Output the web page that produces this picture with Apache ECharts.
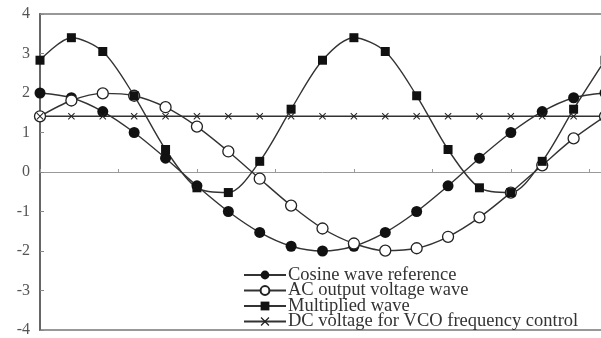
<!DOCTYPE html>
<html>
<head>
<meta charset="utf-8">
<script src="https://cdn.jsdelivr.net/npm/echarts@6/dist/echarts.min.js"></script>
<style>html,body{margin:0;padding:0;background:#fff;overflow:hidden}#c{width:605px;height:338px}</style>
</head>
<body>
<div id="c"></div>
<script>
var sampleIndex = [0,1,2,3,4,5,6,7,8,9,10,11,12,13,14,15,16,17,18];
var cosineRef = [2.0,1.88,1.53,1.0,0.35,-0.35,-1.0,-1.53,-1.88,-2.0,-1.88,-1.53,-1.0,-0.35,0.35,1.0,1.53,1.88,2.0];
var acOutput = [1.41,1.81,1.99,1.93,1.64,1.15,0.52,-0.17,-0.85,-1.43,-1.81,-1.99,-1.93,-1.64,-1.15,-0.52,0.17,0.85,1.41];
var multiplied = [2.83,3.40,3.05,1.93,0.57,-0.40,-0.52,0.27,1.59,2.83,3.40,3.05,1.93,0.57,-0.40,-0.52,0.27,1.59,2.83];
var dcVoltage = [1.41,1.41,1.41,1.41,1.41,1.41,1.41,1.41,1.41,1.41,1.41,1.41,1.41,1.41,1.41,1.41,1.41,1.41,1.41];
var seriesNames = ['Cosine wave reference','AC output voltage wave','Multiplied wave','DC voltage for VCO frequency control'];
var yTicks = [-4,-3,-2,-1,0,1,2,3,4];

function pairs(arr){ return sampleIndex.map(function(x,i){ return [x, arr[i]]; }); }
var lineColor = '#333';
var crossPath = 'path://M0,1L1,0L5,4L9,0L10,1L6,5L10,9L9,10L5,6L1,10L0,9L4,5Z';
var legendTops = [265.5, 281, 296.5, 312];

var chart = echarts.init(document.getElementById('c'), null, {renderer:'canvas'});
chart.setOption({
  animation:false,
  backgroundColor:'#fff',
  grid:{left:40, right:0, top:14, bottom:6, show:true, borderColor:'#777', borderWidth:1.6, backgroundColor:'transparent'},
  xAxis:{type:'value', min:0, max:18, interval:2.5,
    axisLine:{onZero:true, lineStyle:{color:'#9a9a9a', width:1}},
    axisTick:{show:true, inside:true, length:3, lineStyle:{color:'#999'}},
    axisLabel:{show:false}, splitLine:{show:false}},
  yAxis:{type:'value', min:yTicks[0], max:yTicks[yTicks.length-1], interval:1,
    axisLine:{show:true, onZero:false, lineStyle:{color:'#666', width:2}},
    axisTick:{show:true, inside:true, length:4, lineStyle:{color:'#888'}},
    axisLabel:{color:'#555', fontFamily:'Liberation Serif', fontSize:16, margin:10,
      formatter:function(v){return String(v);}},
    splitLine:{show:false}},
  legend: seriesNames.map(function(n, i){
    return {orient:'vertical', left:243, top:legendTops[i], padding:0,
      itemWidth:42, itemHeight:11,
      textStyle:{fontFamily:'Liberation Serif', fontSize:18.5, color:'#333', lineHeight:15, padding:[0,0,0,-3]},
      data:[n]};
  }),
  series:[
    {name:seriesNames[0], type:'line', data:pairs(cosineRef), smooth:0.3, symbol:'circle', symbolSize:11,
      lineStyle:{color:lineColor, width:1.4}, itemStyle:{color:'#111', borderColor:'#111', borderWidth:0}},
    {name:seriesNames[1], type:'line', data:pairs(acOutput), smooth:0.3, symbol:'circle', symbolSize:11,
      lineStyle:{color:lineColor, width:1.4}, itemStyle:{color:'#fff', borderColor:'#222', borderWidth:1.3}},
    {name:seriesNames[2], type:'line', data:pairs(multiplied), smooth:0.3, symbol:'rect', symbolSize:9,
      lineStyle:{color:lineColor, width:1.4}, itemStyle:{color:'#111', borderWidth:0}},
    {name:seriesNames[3], type:'line', data:pairs(dcVoltage), symbol:crossPath, symbolSize:7,
      lineStyle:{color:lineColor, width:1.4}, itemStyle:{color:'#222', borderWidth:0}}
  ]
});
</script>
</body>
</html>
